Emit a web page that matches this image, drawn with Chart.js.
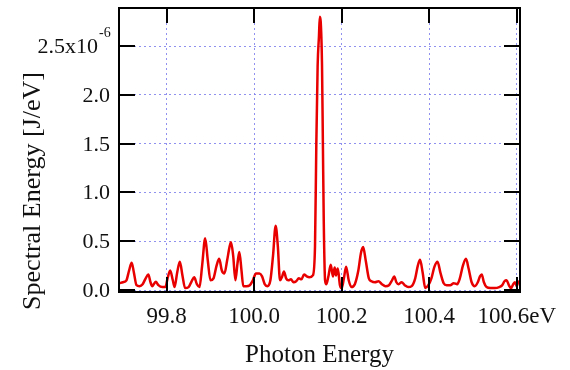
<!DOCTYPE html>
<html>
<head>
<meta charset="utf-8">
<script src="https://cdn.jsdelivr.net/npm/chart.js@4.4.1/dist/chart.umd.min.js"></script>
<style>
  html, body { margin: 0; padding: 0; background: #fff; }
  #wrap { width: 570px; height: 370px; }
</style>
</head>
<body>
<div id="wrap"><canvas id="myChart"></canvas></div>
<script>
// photon energy in eV
const photonEnergy = [
  99.692, 99.700, 99.708, 99.714, 99.720, 99.725, 99.731, 99.738, 99.745, 99.752,
  99.758, 99.763, 99.767, 99.775, 99.781, 99.790, 99.797, 99.802, 99.808, 99.814,
  99.818, 99.824, 99.830, 99.836, 99.842, 99.850, 99.857, 99.863, 99.869, 99.875,
  99.881, 99.888, 99.894, 99.900, 99.907, 99.914, 99.920, 99.926, 99.932, 99.938,
  99.944, 99.947, 99.952, 99.957, 99.962, 99.966, 99.971, 99.975, 99.982, 99.990,
  99.997, 100.004, 100.012, 100.018, 100.024, 100.030, 100.037, 100.043, 100.049, 100.054,
  100.059, 100.064, 100.068, 100.073, 100.078, 100.084, 100.090, 100.096, 100.102, 100.108,
  100.114, 100.120, 100.126, 100.134, 100.139, 100.142, 100.145, 100.148, 100.150, 100.152,
  100.155, 100.157, 100.159, 100.162, 100.165, 100.170, 100.175, 100.180, 100.184, 100.187,
  100.191, 100.196, 100.200, 100.205, 100.210, 100.216, 100.222, 100.230, 100.238, 100.244,
  100.249, 100.255, 100.262, 100.268, 100.276, 100.284, 100.292, 100.300, 100.308, 100.315,
  100.320, 100.325, 100.330, 100.337, 100.344, 100.352, 100.360, 100.368, 100.374, 100.379,
  100.385, 100.391, 100.398, 100.405, 100.412, 100.419, 100.426, 100.433, 100.440, 100.448,
  100.456, 100.464, 100.470, 100.477, 100.484, 100.490, 100.497, 100.504, 100.511, 100.516,
  100.520, 100.525, 100.531, 100.540, 100.550, 100.560, 100.567, 100.572, 100.577, 100.582,
  100.587, 100.592, 100.596, 100.600, 100.604
];
// spectral energy in units of 10^-6 J/eV
const spectralEnergy = [
  0.07, 0.08, 0.10, 0.20, 0.28, 0.18, 0.05, 0.04, 0.06, 0.12,
  0.16, 0.08, 0.04, 0.085, 0.05, 0.03, 0.03, 0.12, 0.20, 0.10,
  0.03, 0.18, 0.29, 0.15, 0.02, 0.03, 0.09, 0.13, 0.06, 0.03,
  0.25, 0.53, 0.30, 0.10, 0.12, 0.25, 0.32, 0.20, 0.17, 0.30,
  0.45, 0.49, 0.35, 0.10, 0.28, 0.39, 0.20, 0.04, 0.04, 0.05,
  0.10, 0.17, 0.17, 0.14, 0.06, 0.04, 0.10, 0.35, 0.66, 0.45,
  0.10, 0.14, 0.19, 0.12, 0.10, 0.11, 0.08, 0.09, 0.12, 0.11,
  0.16, 0.14, 0.13, 0.15, 0.45, 1.5, 2.3, 2.6, 2.8, 2.75,
  2.3, 1.5, 0.7, 0.10, 0.06, 0.15, 0.26, 0.14, 0.23, 0.15,
  0.22, 0.05, 0.02, 0.12, 0.24, 0.10, 0.03, 0.06, 0.20, 0.38,
  0.44, 0.30, 0.12, 0.09, 0.08, 0.09, 0.06, 0.04, 0.05, 0.10,
  0.14, 0.08, 0.06, 0.08, 0.05, 0.03, 0.04, 0.12, 0.25, 0.31,
  0.18, 0.02, 0.05, 0.12, 0.24, 0.29, 0.17, 0.07, 0.05, 0.05,
  0.07, 0.06, 0.12, 0.25, 0.32, 0.22, 0.08, 0.04, 0.08, 0.14,
  0.16, 0.08, 0.03, 0.02, 0.02, 0.03, 0.05, 0.09, 0.10, 0.05,
  0.02, 0.06, 0.08, 0.04, 0.10
];
const xTicks = [99.8, 100.0, 100.2, 100.4, 100.6];
const xTickLabels = ['99.8', '100.0', '100.2', '100.4', '100.6eV'];
const yTicks = [0, 0.5, 1.0, 1.5, 2.0, 2.5];
const yTickLabels = ['0.0', '0.5', '1.0', '1.5', '2.0', '2.5x10'];

const serif = '"Liberation Serif", "Times New Roman", serif';

// frame, inward ticks and all text
const decor = {
  id: 'decor',
  afterDraw(chart) {
    const { ctx, chartArea: a, scales: { x, y } } = chart;
    ctx.save();
    ctx.strokeStyle = '#000';
    ctx.lineWidth = 2;
    ctx.beginPath();
    xTicks.forEach(v => {
      const px = Math.round(x.getPixelForValue(v));
      ctx.moveTo(px, a.bottom); ctx.lineTo(px, a.bottom - 15);
      ctx.moveTo(px, a.top); ctx.lineTo(px, a.top + 15);
    });
    yTicks.forEach(v => {
      const py = Math.round(y.getPixelForValue(v));
      ctx.moveTo(a.left, py); ctx.lineTo(a.left + 16, py);
      ctx.moveTo(a.right, py); ctx.lineTo(a.right - 16, py);
    });
    ctx.stroke();
    ctx.strokeRect(a.left, a.top, a.right - a.left, a.bottom - a.top);

    ctx.fillStyle = '#111';
    ctx.textBaseline = 'alphabetic';
    ctx.font = '23px ' + serif;
    ctx.textAlign = 'center';
    xTicks.forEach((v, i) => ctx.fillText(xTickLabels[i], x.getPixelForValue(v), a.bottom + 31));

    ctx.font = '22px ' + serif;
    ctx.textAlign = 'right';
    yTicks.forEach((v, i) => {
      const py = y.getPixelForValue(v) + 7;
      if (i === yTicks.length - 1) {
        ctx.fillText(yTickLabels[i], a.left - 21, py);
        ctx.font = '14px ' + serif;
        ctx.textAlign = 'left';
        ctx.fillText('-6', a.left - 20, py - 16);
      } else {
        ctx.fillText(yTickLabels[i], a.left - 9, py);
      }
    });

    ctx.font = '25px ' + serif;
    ctx.textAlign = 'center';
    ctx.fillText('Photon Energy', (a.left + a.right) / 2, 362);

    ctx.font = '26px ' + serif;
    ctx.translate(40, 191);
    ctx.rotate(-Math.PI / 2);
    ctx.fillText('Spectral Energy [J/eV]', 0, 0);
    ctx.restore();
  }
};

const gridStyle = { color: 'rgba(125,125,235,0.85)', lineWidth: 1, drawTicks: false };

const ctx = document.getElementById('myChart').getContext('2d');
const chartInstance = new Chart(ctx, {
  type: 'line',
  data: {
    datasets: [{
      data: photonEnergy.map((e, i) => ({ x: e, y: spectralEnergy[i] })),
      borderColor: 'rgb(232,0,0)',
      borderWidth: 2.5,
      pointRadius: 0,
      cubicInterpolationMode: 'monotone',
      fill: false
    }]
  },
  options: {
    responsive: true,
    maintainAspectRatio: false,
    devicePixelRatio: 1,
    animation: false,
    layout: { padding: { left: 0, top: 8, right: 50, bottom: 0 } },
    plugins: { legend: { display: false }, tooltip: { enabled: false } },
    scales: {
      x: {
        type: 'linear',
        min: 99.691,
        max: 100.6075,
        afterBuildTicks: s => { s.ticks = xTicks.map(v => ({ value: v })); },
        afterFit: s => { s.height = 78; },
        ticks: { display: false },
        grid: gridStyle,
        border: { display: false, dash: [2, 3] }
      },
      y: {
        type: 'linear',
        min: -0.02,
        max: 2.89,
        afterBuildTicks: s => { s.ticks = yTicks.map(v => ({ value: v })); },
        afterFit: s => { s.width = 119; },
        ticks: { display: false },
        grid: gridStyle,
        border: { display: false, dash: [2, 3] }
      }
    }
  },
  plugins: [decor]
});
</script>
</body>
</html>
